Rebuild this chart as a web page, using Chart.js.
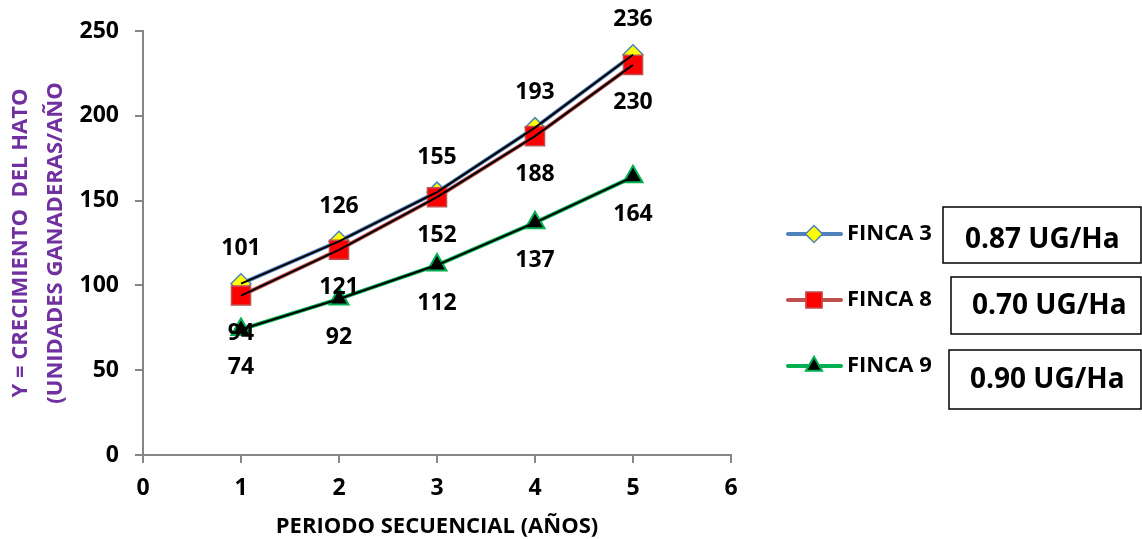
<!DOCTYPE html>
<html>
<head>
<meta charset="utf-8">
<script src="https://cdn.jsdelivr.net/npm/chart.js@4.4.1/dist/chart.umd.min.js"></script>
<style>
html, body { margin: 0; padding: 0; background: #fff; }
#wrap { width: 1142px; height: 539px; position: relative; }
</style>
</head>
<body>
<div id="wrap"><canvas id="hatoChart" width="1142" height="539"></canvas></div>
<script>
var periodos = [1, 2, 3, 4, 5];
var finca3 = [101, 126, 155, 193, 236];
var finca8 = [94, 121, 152, 188, 230];
var finca9 = [74, 92, 112, 137, 164];
var nombres = ['FINCA 3', 'FINCA 8', 'FINCA 9'];
var cargas = ['0.87 UG/Ha', '0.70 UG/Ha', '0.90 UG/Ha'];

function puntos(valores) {
    return periodos.map(function (p, i) { return { x: p, y: valores[i] }; });
}

var gris = '#868686';
var fuente = 'Open Sans';
Chart.defaults.font.family = fuente;

// etiquetas de valores: arriba para finca 3, abajo para 8 y 9
var etiquetasPlugin = {
    id: 'etiquetas',
    afterDatasetsDraw: function (chart) {
        var ctx = chart.ctx;
        ctx.save();
        ctx.font = 'bold 23px ' + fuente;
        ctx.fillStyle = '#000';
        ctx.textAlign = 'center';
        ctx.textBaseline = 'middle';
        chart.data.datasets.forEach(function (ds, i) {
            if (ds.tendencia) return;
            var meta = chart.getDatasetMeta(i);
            meta.data.forEach(function (pt, j) {
                var dy = ds.etiquetaArriba ? -35 : 38;
                ctx.fillText(String(ds.data[j].y), pt.x, pt.y + dy);
            });
        });
        ctx.restore();
    }
};

var leyendaPlugin = {
    id: 'leyenda',
    afterDraw: function (chart) {
        var ctx = chart.ctx;
        var filas = [234, 300, 366];
        // x, y, alto de cada caja, x y centro del texto
        var cajas = [[943, 207, 56, 965, 240], [951, 277, 57, 972, 306], [949, 350, 59, 970, 380]];
        ctx.save();
        var k = 0;
        chart.data.datasets.forEach(function (ds) {
            if (ds.tendencia) return;
            var y = filas[k];
            ctx.strokeStyle = ds.borderColor;
            ctx.lineWidth = 4;
            ctx.lineCap = 'round';
            ctx.beginPath();
            ctx.moveTo(788, y);
            ctx.lineTo(841, y);
            ctx.stroke();
            ctx.fillStyle = ds.pointBackgroundColor;
            ctx.strokeStyle = ds.pointBorderColor;
            ctx.lineWidth = ds.pointBorderWidth;
            Chart.helpers.drawPoint(ctx, {
                pointStyle: ds.pointStyle,
                radius: ds.pointRadius * 0.85,
                borderWidth: ds.pointBorderWidth
            }, 814, y);
            ctx.fillStyle = '#000';
            ctx.font = 'bold 22px ' + fuente;
            ctx.textAlign = 'left';
            ctx.textBaseline = 'middle';
            ctx.fillText(ds.label, 847, y);

            var c = cajas[k];
            ctx.strokeStyle = '#000';
            ctx.lineWidth = 1.5;
            ctx.strokeRect(c[0], c[1], 1141 - c[0], c[2]);
            ctx.font = 'bold 28px ' + fuente;
            ctx.fillText(cargas[k], c[3], c[4]);
            k++;
        });
        ctx.restore();
    }
};

var ctx = document.getElementById('hatoChart').getContext('2d');

var data = {
    datasets: [{
        label: nombres[0],
        data: puntos(finca3),
        borderColor: '#4F81BD',
        borderWidth: 4,
        pointStyle: 'rectRot',
        pointRadius: 10,
        pointBackgroundColor: '#FFFF00',
        pointBorderColor: '#4F81BD',
        pointBorderWidth: 1.5,
        etiquetaArriba: true,
        order: 3
    }, {
        label: nombres[1],
        data: puntos(finca8),
        borderColor: '#C0504D',
        borderWidth: 4,
        pointStyle: 'rect',
        pointRadius: 13.5,
        pointBackgroundColor: '#FF0000',
        pointBorderColor: '#C0504D',
        pointBorderWidth: 1.5,
        order: 2
    }, {
        label: nombres[2],
        data: puntos(finca9),
        borderColor: '#00B050',
        borderWidth: 4,
        pointStyle: 'triangle',
        pointRadius: 11,
        pointBackgroundColor: '#000000',
        pointBorderColor: '#00B050',
        pointBorderWidth: 2,
        order: 1
    }, {
        tendencia: true,
        data: puntos(finca3),
        borderColor: '#000',
        borderWidth: 2,
        pointRadius: 0,
        order: 0
    }, {
        tendencia: true,
        data: puntos(finca8),
        borderColor: '#000',
        borderWidth: 2,
        pointRadius: 0,
        order: 0
    }, {
        tendencia: true,
        data: puntos(finca9),
        borderColor: '#000',
        borderWidth: 2,
        pointRadius: 0,
        order: 0
    }]
};

var options = {
    responsive: false,
    animation: false,
    layout: { padding: { top: 31, right: 411, left: 0, bottom: 0 } },
    plugins: { legend: { display: false }, tooltip: { enabled: false } },
    scales: {
        x: {
            type: 'linear',
            min: 0,
            max: 6,
            ticks: { stepSize: 1, color: '#000', font: { size: 23, weight: 'bold' }, padding: 12 },
            grid: { drawOnChartArea: false, drawTicks: true, tickLength: 8, color: gris, lineWidth: 2 },
            border: { color: gris, width: 2 },
            title: {
                display: true,
                text: 'PERIODO SECUENCIAL (AÑOS)',
                color: '#000',
                font: { size: 22, weight: 'bold', lineHeight: 1.1 },
                padding: { top: 0, bottom: 0 }
            },
            afterFit: function (s) { s.height = 84; }
        },
        y: {
            min: 0,
            max: 250,
            ticks: { stepSize: 50, color: '#000', font: { size: 23, weight: 'bold' }, padding: 16 },
            grid: { drawOnChartArea: false, drawTicks: true, tickLength: 8, color: gris, lineWidth: 2 },
            border: { color: gris, width: 2 },
            title: {
                display: true,
                text: ['Y = CRECIMIENTO  DEL HATO', '(UNIDADES GANADERAS/AÑO'],
                color: '#7030A0',
                font: { size: 22, weight: 'bold', lineHeight: 1.6 },
                padding: { top: 3, bottom: 0 }
            },
            afterFit: function (s) { s.width = 143; }
        }
    }
};

var hatoChart = new Chart(ctx, {
    type: 'line',
    data: data,
    options: options,
    plugins: [etiquetasPlugin, leyendaPlugin]
});
</script>
</body>
</html>
